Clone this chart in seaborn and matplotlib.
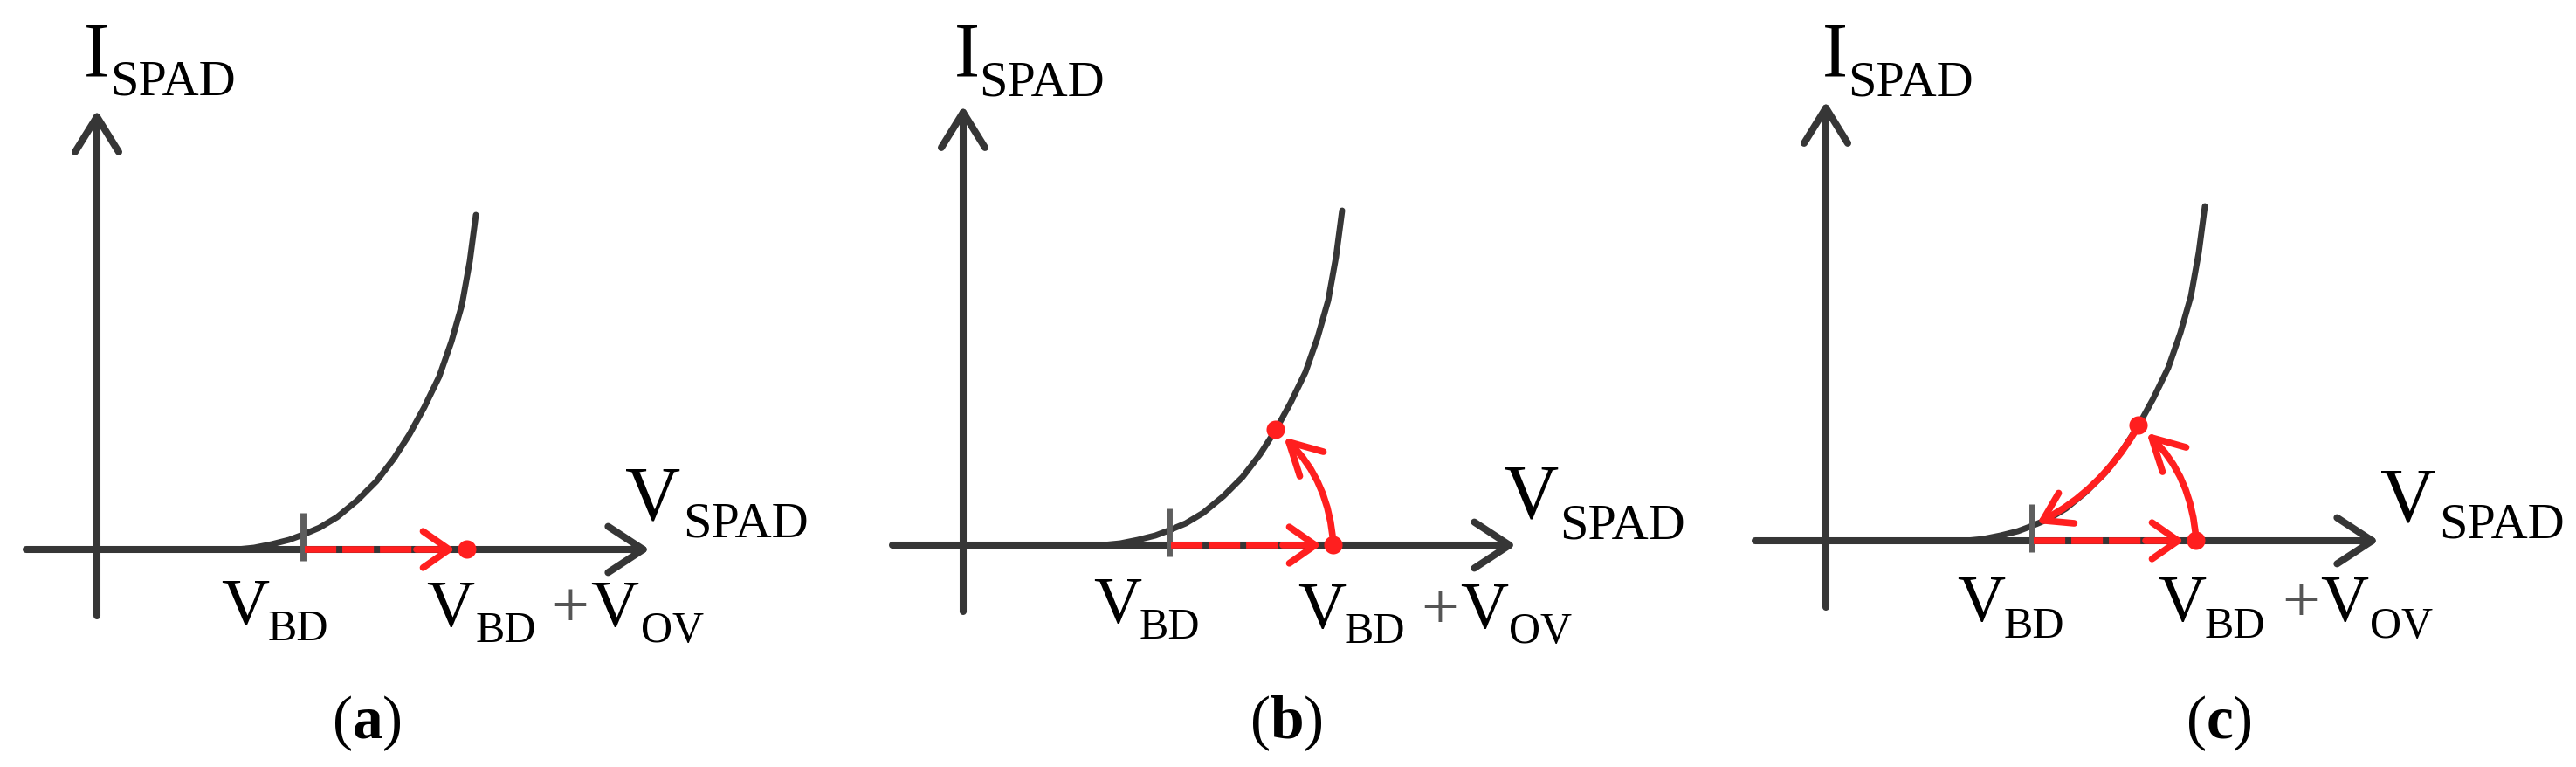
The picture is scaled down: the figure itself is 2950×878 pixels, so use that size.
import matplotlib
matplotlib.use("Agg")
import matplotlib.pyplot as plt
import seaborn as sns
from matplotlib.patches import FancyArrowPatch, ArrowStyle

sns.set_style("white")
plt.rcParams["font.family"] = ["Liberation Serif", "DejaVu Serif"]
plt.rcParams["mathtext.fontset"] = "custom"
plt.rcParams["mathtext.rm"] = "Liberation Serif"
plt.rcParams["mathtext.bf"] = "Liberation Serif:bold"
plt.rcParams["lines.scale_dashes"] = False

# ---------------- data (units: arbitrary V / I) ----------------
panel_letters = ["a", "b", "c"]
curve_v = [1.60, 1.80, 2.00, 2.20, 2.36, 2.55, 2.75, 2.98, 3.20, 3.40, 3.58,
           3.75, 3.92, 4.06, 4.18, 4.27, 4.34]
curve_i = [0.00, 0.02, 0.06, 0.11, 0.17, 0.25, 0.37, 0.56, 0.78, 1.04, 1.32,
           1.63, 1.98, 2.38, 2.80, 3.30, 3.83]
v_bd = 2.36                  # breakdown voltage tick
v_op = 4.24                  # V_BD + V_OV operating point
aval_v, aval_i = 3.58, 1.32  # avalanche point on the curve
quench_end = (2.42, 0.20)
axis_v = (-0.81, 6.33)
axis_i = (-0.76, 5.03)
show_avalanche = [False, True, True]
show_quench = [False, False, True]

# ---------------- layout ----------------
W, H = 2950, 879
PX = 100.0
origins = [(111, 630), (1103, 625), (2091, 620)]
spans = [(0, 990), (990, 1980), (1980, 2950)]
# label placements (absolute px: x, baseline y)
lab = [
    dict(I=(96, 87), Isub=(126, 109), V=(716, 595), Vsub=(782, 615),
         B=(253, 715), Bsub=(307, 733), O=(488, 717), Osub=(545, 735),
         plus=(631, 717), O2=(676, 717), O2sub=(734, 735), P=(420, 845)),
    dict(I=(1093, 87), Isub=(1121, 110), V=(1722, 593), Vsub=(1786, 617),
         B=(1252, 713), Bsub=(1305, 731), O=(1486, 719), Osub=(1540, 736),
         plus=(1627, 719), O2=(1672, 719), O2sub=(1728, 736), P=(1473, 845)),
    dict(I=(2087, 87), Isub=(2116, 110), V=(2726, 596), Vsub=(2793, 615),
         B=(2241, 711), Bsub=(2295, 730), O=(2471, 711), Osub=(2525, 730),
         plus=(2613, 711), O2=(2657, 711), O2sub=(2714, 730), P=(2541, 845)),
]

DARK = "#363636"
TICK = "#5e5e5e"
RED = "#ff1f1f"
BIG, BIGSUB = 63, 42
MID, MIDSUB = 55, 36

fig = plt.figure(figsize=(W / 100, H / 100), dpi=100)
fig.patch.set_facecolor("white")


def arrow(ax, a, b, hl, hw, color, lw, rad=0.0, sa=0, sb=0, z=3):
    p = FancyArrowPatch(a, b, arrowstyle=ArrowStyle("->", head_length=hl, head_width=hw),
                        connectionstyle=f"arc3,rad={rad}", mutation_scale=1,
                        lw=lw, color=color, shrinkA=sa, shrinkB=sb,
                        joinstyle="round", capstyle="round", zorder=z)
    ax.add_patch(p)


for k in range(3):
    ox, oy = origins[k]
    L, R = spans[k]
    ax = fig.add_axes([L / W, 0, (R - L) / W, 1])
    ax.set_xlim((L - ox) / PX, (R - ox) / PX)
    ax.set_ylim((oy - H) / PX, oy / PX)
    ax.axis("off")

    def d(p):
        return ((p[0] - ox) / PX, (oy - p[1]) / PX)

    # axes
    arrow(ax, (axis_v[0], 0), (axis_v[1], 0), 29, 19, DARK, 5.8, z=1)
    arrow(ax, (0, axis_i[0]), (0, axis_i[1]), 29, 18, DARK, 5.8, z=1)

    # I-V curve
    sns.lineplot(x=curve_v, y=curve_i, ax=ax, color=DARK, lw=5.0, sort=False,
                 estimator=None, zorder=2, solid_capstyle="round")

    # breakdown tick
    ax.plot([v_bd, v_bd], [-0.13, 0.42], color=TICK, lw=5.0,
            solid_capstyle="butt", zorder=3)

    # dashed red arrow V_BD -> V_BD+V_OV
    ax.plot([v_bd + 0.02, 3.62], [0, 0], color=RED, lw=5.5, dashes=(26, 5),
            dash_capstyle="butt", zorder=4)
    arrow(ax, (3.66, 0), (4.10, 0), 21.5, 15, RED, 5.5, z=4)

    dots_v = [v_op]
    dots_i = [0.0]
    if show_avalanche[k]:
        arrow(ax, (v_op, 0.0), (aval_v, aval_i), 26, 14, RED, 5.5,
              rad=0.21, sa=0, sb=9, z=4)
        dots_v.append(aval_v)
        dots_i.append(aval_i)
    if show_quench[k]:
        arrow(ax, (aval_v, aval_i), quench_end, 22, 14, RED, 5.5,
              rad=-0.15, sa=5, sb=0, z=4)

    sns.scatterplot(x=dots_v, y=dots_i, ax=ax, s=230, color=RED,
                    edgecolor="none", zorder=6, legend=False)

    # labels
    g = lab[k]

    def t(key, s, size, color="black", ha="left", **kw):
        x, y = d(g[key])
        ax.text(x, y, s, fontsize=size, ha=ha, va="baseline", color=color,
                zorder=7, **kw)

    t("I", "I", BIG)
    t("Isub", "SPAD", BIGSUB)
    t("V", "V", BIG)
    t("Vsub", "SPAD", BIGSUB)
    t("B", "V", MID)
    t("Bsub", "BD", MIDSUB)
    t("O", "V", MID)
    t("Osub", "BD", MIDSUB)
    t("plus", "+", MID, color="#555555")
    t("O2", "V", MID)
    t("O2sub", "OV", MIDSUB)
    t("P", "(" + r"$\mathbf{" + panel_letters[k] + "}$" + ")", 50, ha="center")

fig.savefig("out.png", dpi=100, facecolor="white")
